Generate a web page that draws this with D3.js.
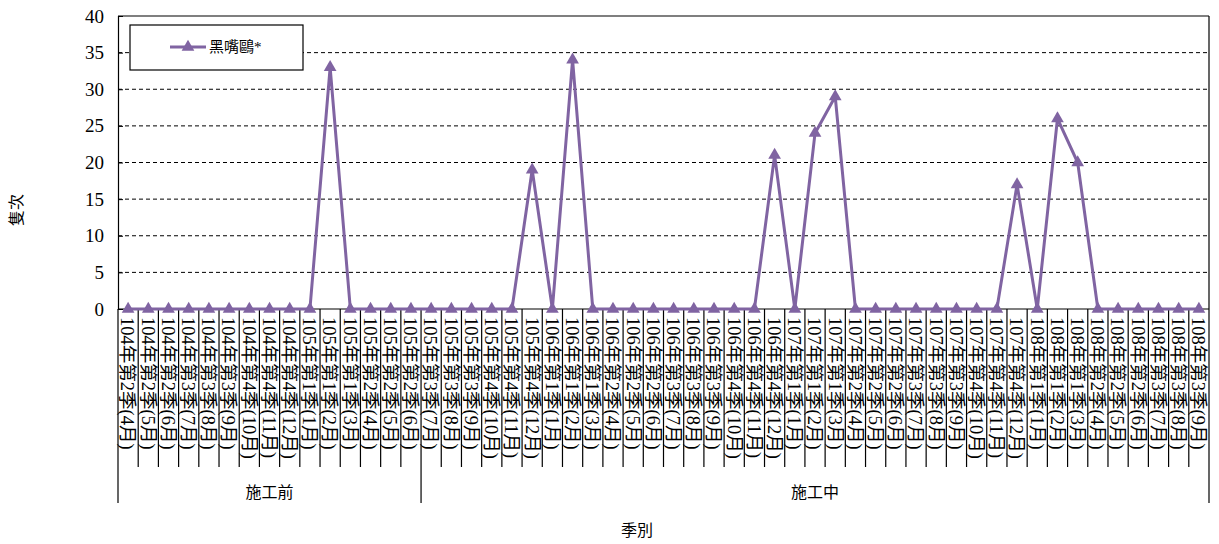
<!DOCTYPE html>
<html>
<head>
<meta charset="utf-8">
<script src="https://cdn.jsdelivr.net/npm/d3@7"></script>
<style>
body{margin:0;background:#fff;}
svg{display:block;}
</style>
</head>
<body>
<svg id="chart" width="1219" height="544"></svg>
<script>
const categories = [
"104年第2季(4月)","104年第2季(5月)","104年第2季(6月)","104年第3季(7月)","104年第3季(8月)","104年第3季(9月)","104年第4季(10月)","104年第4季(11月)","104年第4季(12月)",
"105年第1季(1月)","105年第1季(2月)","105年第1季(3月)","105年第2季(4月)","105年第2季(5月)","105年第2季(6月)","105年第3季(7月)","105年第3季(8月)","105年第3季(9月)","105年第4季(10月)","105年第4季(11月)","105年第4季(12月)",
"106年第1季(1月)","106年第1季(2月)","106年第1季(3月)","106年第2季(4月)","106年第2季(5月)","106年第2季(6月)","106年第3季(7月)","106年第3季(8月)","106年第3季(9月)","106年第4季(10月)","106年第4季(11月)","106年第4季(12月)",
"107年第1季(1月)","107年第1季(2月)","107年第1季(3月)","107年第2季(4月)","107年第2季(5月)","107年第2季(6月)","107年第3季(7月)","107年第3季(8月)","107年第3季(9月)","107年第4季(10月)","107年第4季(11月)","107年第4季(12月)",
"108年第1季(1月)","108年第1季(2月)","108年第1季(3月)","108年第2季(4月)","108年第2季(5月)","108年第2季(6月)","108年第3季(7月)","108年第3季(8月)","108年第3季(9月)"
];
const seriesName = "黑嘴鷗*";
const values = [
0,0,0,0,0,0,0,0,0,
0,33,0,0,0,0,0,0,0,0,0,19,
0,34,0,0,0,0,0,0,0,0,0,21,
0,24,29,0,0,0,0,0,0,0,0,17,
0,26,20,0,0,0,0,0,0
];
const groupNames = ["施工前","施工中"];
const groupCounts = [15,39];
const yTicks = [0,5,10,15,20,25,30,35,40];
const yTitle = "隻次";
const xTitle = "季別";

const FONT = '"Liberation Serif","Noto Sans CJK TC",serif';
const color = "#8064A2";
const L=118, R=1209, T=16, B=309;
const svg = d3.select("#chart");
const x = d3.scaleBand().domain(categories).range([L,R]).paddingInner(0).paddingOuter(0);
const y = d3.scaleLinear().domain([0,40]).range([B,T]);

// gridlines
svg.append("g").selectAll("line").data(yTicks.filter(v=>v>0&&v<40)).join("line")
  .attr("x1",L).attr("x2",R).attr("y1",d=>y(d)).attr("y2",d=>y(d))
  .attr("stroke","#000").attr("stroke-width",1).attr("stroke-dasharray","4,3");

// frame top/right
svg.append("line").attr("x1",L).attr("x2",R).attr("y1",y(40)).attr("y2",y(40)).attr("stroke","#000").attr("stroke-width",1.2);
svg.append("line").attr("x1",R).attr("x2",R).attr("y1",T).attr("y2",B).attr("stroke","#000").attr("stroke-width",1.2);

// y axis
const yAxis = d3.axisLeft(y).tickValues(yTicks).tickSize(-5).tickPadding(14);
const gy = svg.append("g").attr("transform",`translate(${L},0)`).call(yAxis).attr("font-family",FONT);
gy.select(".domain").attr("stroke","#000").attr("stroke-width",1.2);
gy.selectAll(".tick line").attr("stroke","#000");
gy.selectAll(".tick text").style("font-family",FONT).attr("font-size",19).attr("fill","#000");

// x axis baseline
svg.append("line").attr("x1",L).attr("x2",R).attr("y1",B).attr("y2",B).attr("stroke","#000").attr("stroke-width",1.2);

// category separators
const bounds = d3.range(categories.length+1).map(i=> i<categories.length ? x(categories[i]) : R);
const groupBounds = [0];
groupCounts.reduce((a,c)=>{groupBounds.push(a+c);return a+c;},0);
svg.append("g").selectAll("line").data(d3.range(categories.length+1)).join("line")
  .attr("x1",i=>bounds[i]).attr("x2",i=>bounds[i])
  .attr("y1",B).attr("y2",i=> groupBounds.includes(i) ? 503 : 467)
  .attr("stroke","#000").attr("stroke-width",1.2);

// category labels (vertical)
svg.append("g").selectAll("text").data(categories).join("text")
  .attr("transform",d=>`translate(${x(d)+x.bandwidth()/2},317) rotate(90)`)
  .attr("dy","0.36em").attr("font-size",18.5).style("font-family",FONT)
  .text(d=>d);

// group labels
let acc=0;
groupNames.forEach((g,i)=>{
  const x0 = bounds[acc], x1 = bounds[acc+groupCounts[i]];
  svg.append("text").attr("x",(x0+x1)/2).attr("y",498).attr("text-anchor","middle")
    .attr("font-size",16).style("font-family",FONT).text(g);
  acc += groupCounts[i];
});

// axis titles
svg.append("text").attr("x",637).attr("y",536).attr("text-anchor","middle").attr("font-size",16).style("font-family",FONT).text(xTitle);
svg.append("text").attr("transform","translate(22,210) rotate(-90)").attr("text-anchor","middle").attr("font-size",16).style("font-family",FONT).text(yTitle);

// line
const line = d3.line().x((d,i)=>x(categories[i])+x.bandwidth()/2).y(d=>y(d));
svg.append("path").datum(values).attr("d",line).attr("fill","none").attr("stroke",color).attr("stroke-width",3).attr("stroke-linejoin","miter");

const tri = d3.symbol().type(d3.symbolTriangle).size(70);
svg.append("g").selectAll("path").data(values).join("path")
  .attr("transform",(d,i)=>`translate(${x(categories[i])+x.bandwidth()/2},${y(d)})`)
  .attr("d",tri).attr("fill",color);

// legend
svg.append("rect").attr("x",130).attr("y",25).attr("width",173).attr("height",45).attr("fill","#fff").attr("stroke","#000").attr("stroke-width",1.2);
svg.append("line").attr("x1",170).attr("x2",206).attr("y1",47).attr("y2",47).attr("stroke",color).attr("stroke-width",3);
svg.append("path").attr("transform","translate(188,47)").attr("d",tri).attr("fill",color);
svg.append("text").attr("x",209).attr("y",52).attr("font-size",15).style("font-family",FONT).text(seriesName);
</script>
</body>
</html>
